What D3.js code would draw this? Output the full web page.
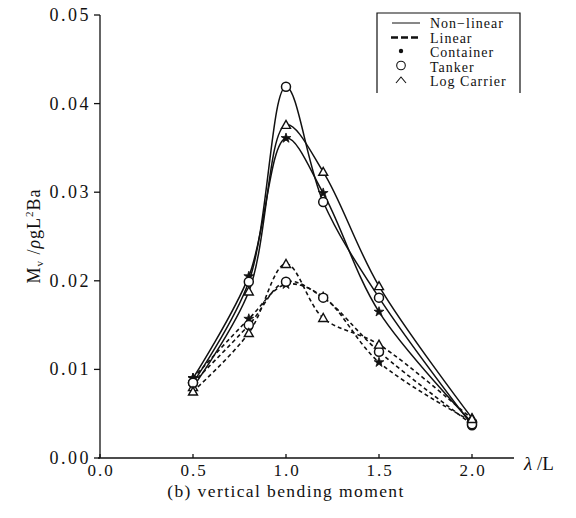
<!DOCTYPE html>
<html>
<head>
<meta charset="utf-8">
<script src="https://cdn.jsdelivr.net/npm/d3@7"></script>
<style>
  body { margin: 0; background: #fff; }
  svg text { font-family: "Liberation Serif", "DejaVu Serif", serif; fill: #111; }
</style>
</head>
<body>
<div id="chart"></div>
<script>
// wave length ratio (x) and response values
const lambda = [0.5, 0.8, 1.0, 1.2, 1.5, 2.0];
const nlContainer  = [0.0090, 0.0205, 0.0361, 0.0299, 0.0165, 0.0040];
const nlTanker     = [0.0085, 0.0199, 0.0419, 0.0289, 0.0181, 0.0037];
const nlLog        = [0.0080, 0.0188, 0.0376, 0.0323, 0.0194, 0.0045];
const linContainer = [0.0090, 0.0157, 0.0196, 0.0182, 0.0108, 0.0041];
const linTanker    = [0.0085, 0.0150, 0.0199, 0.0181, 0.0120, 0.0038];
const linLog       = [0.0075, 0.0141, 0.0219, 0.0158, 0.0128, 0.0044];
const xTicks = [0.0, 0.5, 1.0, 1.5, 2.0];
const yTicks = [0.00, 0.01, 0.02, 0.03, 0.04, 0.05];

const W = 576, H = 518;
const svg = d3.select("#chart").append("svg").attr("width", W).attr("height", H);

const x = d3.scaleLinear().domain([0, 2.0]).range([100, 472]);
const y = d3.scaleLinear().domain([0, 0.05]).range([458, 15]);

// axes
const xAxisG = svg.append("g").attr("transform", "translate(0," + y(0) + ")");
xAxisG.append("line").attr("x1", x(0) - 2).attr("x2", 514).attr("stroke", "#111").attr("stroke-width", 1.3);
xAxisG.selectAll(".xt").data(xTicks).enter().append("line")
  .attr("x1", d => x(d)).attr("x2", d => x(d)).attr("y1", 0).attr("y2", -4)
  .attr("stroke", "#111").attr("stroke-width", 1.3);
xAxisG.selectAll(".xl").data(xTicks).enter().append("text")
  .attr("x", d => x(d) + 1).attr("y", 18).attr("text-anchor", "middle")
  .style("font-size", "17px").style("letter-spacing", "2px")
  .text(d => d3.format(".1f")(d));

const yAxisG = svg.append("g").attr("transform", "translate(" + x(0) + ",0)");
yAxisG.append("line").attr("y1", y(0)).attr("y2", y(0.05)).attr("stroke", "#111").attr("stroke-width", 1.3);
yAxisG.selectAll(".yt").data(yTicks).enter().append("line")
  .attr("x1", 0).attr("x2", -6).attr("y1", d => y(d)).attr("y2", d => y(d))
  .attr("stroke", "#111").attr("stroke-width", 1.3);
yAxisG.selectAll(".yl").data(yTicks).enter().append("text")
  .attr("x", -9).attr("y", d => y(d) + 6).attr("text-anchor", "end")
  .style("font-size", "18px").style("letter-spacing", "2.5px")
  .text(d => d3.format(".2f")(d));

// axis labels
svg.append("text").attr("x", 524).attr("y", 470).style("font-size", "19px")
  .html('<tspan font-style="italic">λ</tspan> /L');

const yl = svg.append("text").attr("transform", "translate(40,236) rotate(-90)")
  .attr("text-anchor", "middle").style("font-size", "18px").style("letter-spacing", "1px");
yl.append("tspan").text("M");
yl.append("tspan").attr("dy", 3).style("font-size", "11px").text("v");
yl.append("tspan").attr("dy", -3).text(" /");
yl.append("tspan").style("font-style", "italic").text("ρ");
yl.append("tspan").text("gL");
yl.append("tspan").attr("dy", -7).style("font-size", "11px").text("2");
yl.append("tspan").attr("dy", 7).text("Ba");

svg.append("text").attr("x", 286).attr("y", 497).attr("text-anchor", "middle")
  .style("font-size", "17.5px").style("letter-spacing", "1.4px")
  .text("(b) vertical bending moment");

// curves
const line = d3.line().x((d, i) => x(lambda[i])).y(d => y(d)).curve(d3.curveCatmullRom.alpha(0.5));
const series = [
  { v: nlContainer, dash: null, sym: "star" },
  { v: nlTanker, dash: null, sym: "circle" },
  { v: nlLog, dash: null, sym: "tri" },
  { v: linContainer, dash: "4,3", sym: "star" },
  { v: linTanker, dash: "4,3", sym: "circle" },
  { v: linLog, dash: "4,3", sym: "tri" }
];

series.forEach(s => {
  svg.append("path").datum(s.v)
    .attr("fill", "none").attr("stroke", "#111")
    .attr("stroke-width", s.dash ? 1.6 : 1.5)
    .attr("stroke-dasharray", s.dash)
    .attr("d", line);
});

function drawSym(g, type, cx, cy) {
  if (type === "circle") {
    g.append("circle").attr("cx", cx).attr("cy", cy).attr("r", 4.5)
      .attr("fill", "#fff").attr("stroke", "#111").attr("stroke-width", 1.5);
  } else if (type === "tri") {
    g.append("path").attr("transform", "translate(" + cx + "," + cy + ")")
      .attr("d", "M-4.5,3.5 L0,-4.5 L4.5,3.5 Z")
      .attr("fill", "#fff").attr("stroke", "#111").attr("stroke-width", 1.4);
  } else {
    g.append("path").attr("transform", "translate(" + cx + "," + cy + ")")
      .attr("d", d3.symbol().type(d3.symbolStar).size(30)())
      .attr("fill", "#111").attr("stroke", "#111").attr("stroke-width", 0.8);
  }
}

const marks = svg.append("g");
series.forEach(s => {
  s.v.forEach((d, i) => drawSym(marks, s.sym, x(lambda[i]), y(d)));
});

// legend
const lg = svg.append("g");
lg.append("path").attr("d", "M377,93 L377,13 L520,13 L520,93")
  .attr("fill", "none").attr("stroke", "#111").attr("stroke-width", 1.2);
const rows = [
  { label: "Non\u2212linear", kind: "solid" },
  { label: "Linear", kind: "dash" },
  { label: "Container", kind: "star" },
  { label: "Tanker", kind: "circle" },
  { label: "Log Carrier", kind: "caret" }
];
rows.forEach((r, i) => {
  const cy = 23 + i * 14.5;
  if (r.kind === "solid") {
    lg.append("line").attr("x1", 392).attr("x2", 420).attr("y1", cy).attr("y2", cy)
      .attr("stroke", "#111").attr("stroke-width", 1);
  } else if (r.kind === "dash") {
    lg.append("line").attr("x1", 391).attr("x2", 421).attr("y1", cy).attr("y2", cy)
      .attr("stroke", "#111").attr("stroke-width", 2.4).attr("stroke-dasharray", "7,3");
  } else if (r.kind === "star") {
    lg.append("circle").attr("cx", 401).attr("cy", cy - 1).attr("r", 2.2).attr("fill", "#111");
  } else if (r.kind === "circle") {
    lg.append("circle").attr("cx", 401).attr("cy", cy - 1).attr("r", 4.3)
      .attr("fill", "none").attr("stroke", "#111").attr("stroke-width", 1.1);
  } else {
    lg.append("path").attr("d", "M396," + (cy + 2) + " L401," + (cy - 4) + " L406," + (cy + 2))
      .attr("fill", "none").attr("stroke", "#111").attr("stroke-width", 1.1);
  }
  lg.append("text").attr("x", 430).attr("y", cy + 5).style("font-size", "14px")
    .style("letter-spacing", "1px").text(r.label);
});
</script>
</body>
</html>
